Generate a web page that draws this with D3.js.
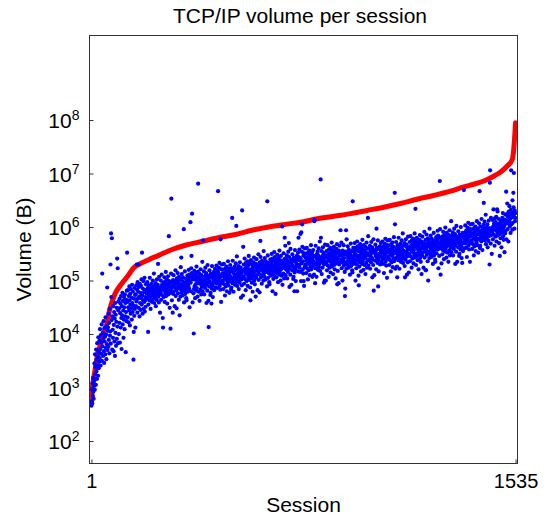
<!DOCTYPE html>
<html>
<head>
<meta charset="utf-8">
<script src="https://cdn.jsdelivr.net/npm/d3@7"></script>
<style>
  body { margin: 0; background: #fff; }
  text { font-family: "Liberation Sans", Arial, Helvetica, sans-serif; fill: #000; }
</style>
</head>
<body>
<div class="chart"></div>
<script>
// TCP/IP volume per session

const TITLE = 'TCP/IP volume per session'
const X_LABEL = 'Session'
const Y_LABEL = 'Volume (B)'

// x ticks (first and last session)
const X_TICKS = [1, 1535]
// y ticks, powers of ten
const Y_TICK_EXP = [2, 3, 4, 5, 6, 7, 8]

// red curve: sorted volume per session (session, log10 bytes)
const RED_SESSION = [1, 3, 6, 10, 15, 22, 34, 45, 58, 66, 76, 88, 100, 118, 136, 154, 172, 208, 244, 293,
  341, 400, 460, 522, 582, 642, 703, 769, 818, 878, 938, 998, 1058, 1119, 1179, 1239, 1300, 1348, 1384,
  1420, 1456, 1481, 1505, 1523, 1527, 1530, 1533, 1535]
const RED_LOG = [2.72, 2.92, 3.08, 3.2, 3.36, 3.59, 3.81, 4.02, 4.21, 4.43, 4.61, 4.77, 4.87, 4.99, 5.11, 5.24, 5.3, 5.39, 5.47, 5.58,
  5.66, 5.73, 5.8, 5.86, 5.94, 6.0, 6.05, 6.1, 6.155, 6.2, 6.25, 6.31, 6.37, 6.44, 6.52, 6.59, 6.67, 6.75, 6.8,
  6.86, 6.95, 7.03, 7.14, 7.26, 7.38, 7.55, 7.78, 7.95]

// blue dots: volume of each session in order 1..1535 (log10 bytes)
const BLUE_LOG = [
  // 1-10
  2.66, 2.74, 2.97, 2.70, 3.08, 2.84, 3.18, 2.92, 2.79, 3.03,
  // 11-30
  3.12, 3.45, 2.96, 3.62, 3.25, 3.38, 3.05, 3.71, 3.30, 3.52, 3.16, 3.83, 3.41, 3.58, 3.22, 3.94, 3.36, 3.66, 3.48, 3.88,
  // 31-60
  3.55, 4.09, 3.72, 3.41, 3.98, 3.63, 3.84, 4.18, 3.50, 5.13, 3.77, 4.02, 3.59, 3.91, 4.24, 3.68, 3.46, 4.11, 3.86, 3.95,
  3.62, 4.31, 3.74, 3.99, 3.53, 4.15, 3.81, 4.87, 3.70, 4.06,
  // 61-100
  4.12, 3.76, 4.38, 3.89, 4.21, 3.64, 4.47, 3.97, 4.05, 5.30, 3.82, 5.88, 4.69, 4.26, 5.79, 3.71, 4.33, 4.08, 3.93, 4.52,
  3.68, 4.17, 4.41, 3.86, 4.29, 3.59, 4.58, 4.02, 4.36, 3.78, 4.23, 4.49, 3.91, 5.41, 4.14, 5.23, 3.83, 4.44, 4.61, 4.00,
  // 101-130
  4.48, 4.21, 4.66, 3.84, 4.39, 4.57, 4.12, 4.71, 4.30, 3.72, 4.52, 4.35, 4.77, 4.18, 4.62, 4.44, 3.93, 4.27, 4.69, 4.50,
  4.09, 4.74, 4.33, 4.58, 3.66, 4.41, 4.64, 4.24, 4.81, 5.52,
  // 131-160
  4.60, 4.31, 4.82, 4.50, 4.22, 4.71, 4.44, 4.89, 4.63, 4.16, 4.75, 4.55, 4.38, 4.84, 4.48, 4.68, 4.27, 4.92, 4.58, 4.41,
  4.79, 4.53, 3.52, 4.04, 4.66, 4.34, 4.86, 4.47, 4.73, 4.12,
  // 161-200
  4.74, 4.52, 4.91, 4.61, 5.30, 4.83, 4.40, 4.97, 4.66, 4.79, 5.30, 4.49, 4.88, 4.70, 4.33, 4.94, 4.58, 4.77, 4.45, 4.90,
  4.67, 5.02, 4.55, 5.52, 4.72, 4.38, 4.85, 4.63, 4.99, 4.47, 4.78, 4.60, 5.05, 4.42, 4.82, 4.69, 4.51, 4.93, 4.64, 4.76,
  // 201-250
  4.82, 4.67, 4.97, 4.76, 4.86, 4.04, 4.55, 4.91, 4.72, 4.79, 4.63, 5.05, 4.84, 4.69, 4.47, 4.89, 4.80, 4.74, 4.94, 4.60,
  4.87, 4.77, 5.00, 4.65, 4.83, 4.71, 5.13, 4.58, 4.81, 4.90, 4.68, 4.76, 4.95, 4.52, 4.85, 4.78, 4.64, 5.02, 4.73, 4.88,
  4.92, 5.31, 4.70, 4.82, 4.59, 5.07, 4.75, 4.87, 4.40, 4.84,
  // 251-300
  4.78, 5.00, 4.64, 4.88, 5.11, 4.73, 4.93, 4.84, 4.30, 4.12, 4.90, 4.69, 4.96, 4.81, 5.06, 4.60, 4.85, 4.98, 4.76, 5.16,
  4.71, 4.91, 4.83, 5.02, 4.57, 4.94, 4.79, 5.08, 4.74, 4.87, 5.83, 4.99, 4.92, 4.49, 4.95, 4.82, 4.10, 4.77, 5.13, 6.53,
  4.86, 4.63, 4.97, 4.89, 4.40, 5.01, 4.75, 5.10, 4.80, 4.93,
  // 301-350
  4.96, 4.52, 4.99, 4.87, 5.19, 4.71, 4.94, 4.82, 4.48, 5.04, 5.00, 4.85, 5.14, 4.76, 4.90, 4.97, 4.64, 5.07, 4.88, 4.35,
  5.02, 4.93, 4.70, 5.25, 4.83, 5.43, 4.77, 5.12, 4.89, 4.99, 4.72, 5.06, 4.86, 4.92, 5.96, 4.59, 4.81, 4.96, 5.17, 4.75,
  4.91, 4.84, 5.03, 4.67, 4.63, 4.98, 4.88, 5.09, 4.79, 4.94,
  // 351-400
  5.03, 4.90, 5.20, 4.85, 5.11, 4.50, 4.99, 5.07, 6.09, 4.96, 4.80, 5.23, 5.46, 5.14, 6.25, 5.05, 4.59, 5.02, 5.09, 4.76,
  4.01, 4.84, 5.18, 4.89, 5.04, 4.67, 5.12, 4.93, 5.01, 4.81, 5.26, 4.86, 5.08, 4.95, 4.70, 5.16, 6.81, 5.06, 4.79, 5.00,
  5.13, 4.62, 4.94, 5.03, 4.83, 5.21, 4.98, 4.74, 5.10, 4.88,
  // 401-450
  4.93, 5.35, 4.80, 5.03, 5.75, 4.90, 4.98, 5.17, 4.74, 5.07, 5.00, 4.86, 5.24, 4.95, 5.10, 5.14, 4.58, 4.92, 5.04, 4.81,
  5.29, 4.97, 5.09, 4.62, 4.13, 5.04, 4.89, 5.19, 4.98, 5.08, 4.73, 4.77, 5.13, 4.94, 4.57, 4.85, 5.27, 5.06, 4.91, 4.69,
  5.11, 5.02, 4.96, 5.16, 4.82, 5.09, 4.99, 5.22, 4.87, 5.05,
  // 451-500
  5.14, 4.99, 5.28, 4.94, 5.07, 4.86, 5.19, 5.12, 6.67, 5.15, 5.02, 5.24, 4.97, 5.33, 4.90, 5.06, 4.83, 5.77, 5.09, 4.60,
  5.21, 4.95, 5.30, 5.00, 5.13, 4.98, 5.20, 4.84, 5.08, 5.31, 4.93, 5.13, 5.04, 4.72, 5.23, 5.10, 4.89, 5.16, 5.01, 5.26,
  4.80, 5.05, 5.18, 4.96, 5.36, 4.91, 5.11, 5.03, 5.22, 4.77,
  // 501-550
  5.14, 4.99, 5.29, 5.08, 5.18, 4.83, 4.87, 5.23, 5.04, 6.17, 4.95, 5.37, 5.16, 5.01, 4.79, 5.21, 5.12, 5.06, 5.26, 4.92,
  5.19, 5.09, 5.32, 4.97, 6.02, 5.03, 5.45, 4.90, 5.13, 5.22, 5.00, 5.08, 5.27, 4.84, 5.17, 5.10, 4.96, 5.34, 5.05, 5.20,
  5.24, 4.68, 5.02, 5.14, 4.91, 6.31, 5.07, 5.19, 4.72, 5.63,
  // 551-600
  5.08, 5.30, 4.94, 5.18, 5.41, 5.03, 5.23, 5.14, 4.82, 5.33, 5.20, 4.99, 5.26, 5.11, 5.36, 4.90, 5.15, 5.28, 5.06, 5.46,
  5.01, 5.21, 5.13, 5.32, 4.87, 4.63, 5.09, 5.38, 5.04, 5.17, 4.96, 5.29, 5.22, 4.79, 5.25, 5.12, 5.34, 5.07, 5.43, 5.00,
  5.16, 4.93, 5.27, 5.19, 4.70, 5.31, 5.05, 5.40, 5.10, 5.23,
  // 601-650
  5.26, 4.82, 5.29, 5.17, 5.49, 5.01, 5.24, 5.12, 4.78, 5.34, 5.30, 5.74, 5.44, 5.06, 5.20, 5.27, 4.94, 5.37, 5.18, 5.10,
  5.32, 5.23, 5.00, 5.55, 5.13, 5.25, 5.07, 5.42, 5.19, 5.29, 5.02, 5.36, 5.16, 5.22, 5.31, 4.89, 6.48, 5.26, 5.47, 5.05,
  5.21, 5.14, 5.33, 4.97, 4.93, 5.28, 5.18, 5.39, 5.09, 5.24,
  // 651-700
  5.33, 5.20, 5.50, 5.15, 5.41, 4.80, 5.29, 5.37, 5.03, 5.26, 5.10, 5.53, 5.17, 5.44, 5.22, 5.35, 4.75, 5.32, 5.39, 5.06,
  5.27, 5.14, 5.48, 5.19, 5.34, 4.97, 5.42, 5.23, 5.31, 5.11, 5.56, 5.16, 5.38, 5.25, 5.00, 5.46, 5.21, 5.36, 5.09, 5.30,
  6.01, 4.92, 5.24, 5.33, 5.13, 5.51, 5.28, 5.04, 5.40, 5.80,
  // 701-750
  5.23, 5.65, 5.10, 5.33, 5.42, 5.20, 5.28, 5.47, 5.04, 5.37, 5.30, 5.16, 5.54, 5.25, 5.70, 5.44, 4.88, 5.22, 5.34, 5.11,
  5.59, 5.27, 5.39, 4.92, 5.36, 5.34, 5.19, 5.49, 5.28, 5.38, 5.03, 5.07, 5.43, 5.24, 4.80, 5.15, 5.57, 5.36, 5.21, 4.99,
  5.41, 5.32, 5.26, 5.46, 4.80, 5.39, 5.29, 5.52, 5.17, 5.80,
  // 751-800
  5.44, 5.29, 5.58, 5.24, 5.37, 5.16, 5.87, 5.42, 4.99, 5.90, 5.32, 5.54, 6.05, 5.63, 5.20, 5.36, 5.13, 5.47, 4.99, 4.90,
  5.51, 5.25, 5.60, 5.30, 5.43, 5.28, 5.50, 5.14, 5.38, 5.61, 5.23, 5.43, 5.34, 5.02, 5.53, 5.40, 5.19, 5.46, 5.31, 5.56,
  5.10, 5.35, 5.48, 5.26, 5.66, 5.21, 5.41, 5.33, 5.52, 5.07,
  // 801-850
  5.42, 5.27, 5.57, 5.36, 5.46, 5.11, 6.11, 6.14, 5.32, 4.95, 5.23, 5.65, 5.44, 5.29, 5.07, 5.49, 5.40, 5.34, 5.54, 5.20,
  5.47, 5.37, 5.60, 5.25, 5.43, 5.31, 5.73, 5.18, 5.41, 6.89, 5.80, 5.36, 5.55, 5.12, 5.45, 5.38, 5.24, 5.62, 5.33, 5.48,
  5.52, 4.96, 5.30, 5.42, 5.00, 5.67, 5.35, 5.47, 5.00, 5.44,
  // 851-900
  5.33, 5.55, 5.19, 5.43, 5.66, 5.28, 5.48, 5.39, 5.07, 5.58, 5.45, 5.24, 5.51, 5.36, 5.61, 5.15, 5.40, 5.53, 5.31, 5.71,
  5.26, 5.46, 5.38, 5.57, 5.12, 5.49, 5.34, 5.63, 5.29, 5.42, 5.21, 5.54, 5.47, 5.04, 5.50, 5.37, 5.59, 5.32, 5.68, 4.93,
  5.41, 5.18, 5.52, 5.44, 4.95, 5.56, 5.30, 5.65, 5.35, 5.48,
  // 901-950
  5.48, 5.94, 5.51, 5.39, 5.71, 5.23, 5.46, 5.34, 5.00, 5.56, 5.52, 5.37, 5.66, 5.28, 5.42, 5.49, 5.16, 4.71, 4.85, 5.32,
  5.54, 5.94, 5.22, 5.77, 5.35, 5.47, 5.29, 5.64, 5.41, 5.51, 5.24, 5.58, 5.38, 5.44, 5.53, 5.11, 5.33, 5.48, 5.69, 5.27,
  5.43, 5.36, 5.55, 5.19, 5.15, 6.48, 5.40, 5.61, 5.31, 5.46,
  // 951-1000
  5.53, 5.40, 5.70, 5.35, 5.61, 5.00, 5.49, 5.57, 5.23, 5.46, 5.30, 5.73, 5.37, 5.64, 5.42, 5.55, 5.09, 4.91, 5.59, 5.26,
  5.47, 5.34, 5.68, 5.39, 5.54, 5.17, 5.62, 5.43, 5.51, 5.31, 5.76, 5.36, 5.58, 5.45, 5.20, 5.66, 5.41, 5.56, 5.29, 5.50,
  5.63, 5.12, 5.44, 5.53, 5.33, 5.71, 5.48, 5.24, 5.60, 5.38,
  // 1001-1050
  6.17, 5.83, 5.28, 5.51, 5.60, 5.38, 5.46, 5.65, 5.22, 5.55, 5.48, 5.34, 5.72, 5.43, 5.58, 5.62, 5.06, 5.40, 5.52, 5.29,
  5.77, 4.81, 5.57, 5.10, 5.54, 5.52, 5.37, 5.67, 5.46, 5.56, 5.21, 5.97, 5.61, 5.42, 5.49, 5.33, 5.75, 4.89, 5.39, 5.17,
  5.59, 5.50, 5.44, 5.64, 5.30, 5.57, 5.47, 5.70, 5.35, 5.53,
  // 1051-1100
  5.59, 5.44, 5.73, 5.39, 5.52, 5.31, 5.64, 5.57, 5.14, 5.60, 5.47, 5.69, 5.42, 5.78, 5.35, 5.51, 5.28, 5.62, 5.54, 5.05,
  5.66, 5.40, 5.75, 5.45, 5.58, 5.43, 5.65, 5.29, 5.53, 5.76, 5.38, 5.58, 5.49, 5.17, 5.68, 5.55, 5.34, 5.61, 5.46, 5.71,
  5.25, 5.50, 5.63, 5.41, 5.81, 5.36, 5.56, 6.64, 6.05, 5.22,
  // 1101-1150
  5.57, 5.42, 5.72, 5.51, 5.61, 5.26, 5.06, 5.66, 5.47, 5.54, 5.38, 5.80, 5.59, 5.44, 5.22, 5.64, 5.55, 5.49, 5.69, 5.35,
  5.62, 5.52, 5.75, 5.40, 5.58, 5.46, 5.88, 5.33, 5.56, 5.65, 5.43, 5.51, 5.70, 5.27, 5.06, 5.53, 5.39, 5.77, 5.48, 5.63,
  5.67, 5.11, 5.45, 5.57, 5.34, 5.82, 5.50, 5.62, 5.15, 5.59,
  // 1151-1200
  5.50, 5.72, 5.36, 5.60, 5.83, 5.45, 5.65, 5.56, 5.24, 5.75, 5.62, 5.41, 5.68, 5.53, 5.78, 5.32, 5.57, 5.70, 5.48, 5.88,
  5.43, 5.63, 6.34, 5.74, 5.29, 5.66, 5.51, 5.80, 5.46, 5.59, 5.38, 5.71, 5.64, 5.21, 5.67, 5.54, 5.76, 5.49, 5.85, 5.42,
  5.58, 5.35, 5.69, 5.61, 5.12, 5.73, 5.47, 5.82, 5.52, 5.65,
  // 1201-1250
  5.68, 5.24, 5.71, 5.59, 5.91, 5.43, 5.66, 5.54, 5.20, 5.76, 5.19, 5.57, 5.86, 5.48, 5.62, 5.69, 5.36, 5.79, 5.00, 5.52,
  5.74, 5.65, 5.42, 5.97, 5.55, 5.67, 5.49, 5.84, 5.61, 5.71, 5.44, 5.78, 5.58, 5.64, 5.73, 5.31, 5.53, 5.68, 5.89, 5.47,
  5.63, 5.56, 5.75, 5.39, 5.35, 5.70, 5.60, 5.81, 5.51, 5.66,
  // 1251-1300
  5.76, 5.63, 5.93, 5.58, 5.84, 5.23, 5.72, 5.80, 5.46, 5.69, 6.86, 5.96, 5.60, 5.11, 5.65, 5.78, 5.32, 5.75, 5.82, 5.49,
  5.70, 5.57, 5.91, 5.62, 5.77, 5.40, 5.85, 5.66, 5.74, 5.54, 5.99, 5.59, 5.81, 5.68, 5.43, 5.89, 5.64, 5.79, 5.52, 5.73,
  5.86, 5.35, 5.67, 5.76, 5.56, 5.94, 5.71, 5.47, 5.83, 5.61,
  // 1301-1350
  5.66, 6.11, 5.53, 5.76, 5.85, 5.63, 5.71, 5.90, 5.47, 5.80, 5.73, 5.59, 5.97, 5.68, 5.83, 5.87, 5.31, 5.65, 5.77, 5.54,
  6.02, 5.70, 5.82, 5.35, 5.79, 5.77, 5.62, 5.92, 5.71, 5.81, 5.46, 5.50, 5.86, 5.67, 5.74, 5.58, 6.00, 5.79, 5.64, 5.42,
  5.84, 5.33, 5.69, 5.89, 5.55, 5.82, 5.72, 6.69, 5.60, 5.78,
  // 1351-1400
  5.89, 5.74, 6.03, 5.69, 5.82, 5.61, 5.94, 5.87, 5.44, 5.90, 5.77, 5.99, 5.72, 6.08, 5.65, 5.81, 5.58, 5.92, 5.84, 5.35,
  5.96, 5.70, 6.05, 5.75, 5.88, 5.73, 5.95, 5.59, 5.83, 6.06, 5.68, 5.88, 5.79, 5.47, 5.98, 5.85, 5.64, 5.91, 5.76, 6.01,
  5.55, 5.80, 5.93, 5.71, 6.11, 5.66, 5.86, 5.78, 5.97, 5.52,
  // 1401-1450
  5.92, 5.77, 6.07, 5.86, 6.67, 5.61, 5.65, 6.01, 5.82, 5.89, 5.73, 6.15, 5.94, 5.79, 5.57, 5.99, 5.90, 5.84, 6.04, 6.45,
  5.97, 5.87, 6.10, 5.75, 5.93, 5.81, 6.23, 5.68, 5.91, 6.00, 5.78, 5.86, 6.05, 5.62, 5.95, 5.88, 5.74, 6.12, 5.83, 5.98,
  5.30, 6.83, 7.06, 5.92, 5.69, 6.17, 5.85, 5.97, 5.50, 5.94,
  // 1451-1500
  5.91, 6.13, 5.77, 6.01, 6.33, 5.86, 6.06, 5.97, 5.65, 6.16, 6.03, 5.82, 6.09, 5.94, 6.19, 5.73, 5.98, 6.33, 5.89, 6.29,
  5.84, 6.04, 5.96, 6.15, 5.70, 6.07, 5.92, 5.46, 5.87, 6.00, 5.79, 6.12, 6.05, 5.62, 6.08, 5.95, 6.17, 5.90, 6.26, 5.83,
  5.99, 5.76, 6.10, 6.02, 5.53, 6.14, 5.88, 6.23, 5.93, 6.06,
  // 1501-1535
  6.66, 5.77, 6.24, 6.12, 6.44, 5.96, 6.19, 6.07, 5.73, 6.29, 6.25, 6.10, 6.39, 6.01, 6.15, 6.22, 5.89, 6.32, 7.06, 6.05,
  6.27, 6.18, 5.95, 6.50, 6.08, 6.20, 6.64, 6.37, 7.01, 6.24, 5.97, 6.31, 6.11, 6.17, 6.26
]

var svgWidth = 547
var svgHeight = 516

var box = { left: 89.5, right: 517.5, top: 35.5, bottom: 463.5 }

var svg = d3.select('.chart')
    .append('svg')
    .attr('width', svgWidth)
    .attr('height', svgHeight)

var xScale = d3.scaleLinear()
    .domain([-6, 1542])
    .range([box.left, box.right])

var yScale = d3.scaleLog()
    .domain([Math.pow(10, 1.58), Math.pow(10, 9.58)])
    .range([box.bottom, box.top])

// Title
svg.append('text')
    .attr('x', 300)
    .attr('y', 23)
    .attr('text-anchor', 'middle')
    .attr('font-size', '21px')
    .text(TITLE)

// Red sorted curve
var red = RED_SESSION.map((s, i) => ({ s: s, v: Math.pow(10, RED_LOG[i]) }))
var line = d3.line()
    .x(d => xScale(d.s))
    .y(d => yScale(d.v))
    .curve(d3.curveMonotoneX)

svg.append('path')
    .datum(red)
    .attr('d', line)
    .attr('fill', 'none')
    .attr('stroke', '#ff0000')
    .attr('stroke-width', 5)
    .attr('stroke-linecap', 'round')
    .attr('stroke-linejoin', 'round')

// Blue dots
var blue = BLUE_LOG.map((v, i) => ({ s: i + 1, v: Math.pow(10, v) }))
svg.append('g')
    .selectAll('circle')
    .data(blue)
    .enter()
    .append('circle')
    .attr('cx', d => xScale(d.s))
    .attr('cy', d => yScale(d.v))
    .attr('r', 2.1)
    .attr('fill', '#0000ff')

// Axes
var yAxis = svg.append('g')
    .attr('transform', `translate(${box.left}, 0)`)
    .call(d3.axisLeft(yScale)
        .tickValues(Y_TICK_EXP.map(e => Math.pow(10, e)))
        .tickSizeInner(-4)
        .tickSizeOuter(0)
        .tickPadding(10))

yAxis.selectAll('.tick text')
    .attr('font-size', '21px')
    .attr('dy', '0.36em')
    .each(function(d) {
        var t = d3.select(this)
        t.text(null)
        t.append('tspan').text('10')
        t.append('tspan')
            .attr('dy', '-0.55em')
            .attr('font-size', '14px')
            .text(Math.round(Math.log10(d)))
    })

var xAxis = svg.append('g')
    .attr('transform', `translate(0, ${box.bottom})`)
    .call(d3.axisBottom(xScale)
        .tickValues(X_TICKS)
        .tickFormat(d3.format('d'))
        .tickSizeInner(-4)
        .tickSizeOuter(0)
        .tickPadding(10))

xAxis.selectAll('.tick text').attr('font-size', '20px')

svg.selectAll('.domain').remove()
svg.selectAll('.tick line').attr('stroke', '#333')
svg.selectAll('.tick text').attr('fill', '#000').attr('font-family', '"Liberation Sans", Arial, sans-serif')

// Box around the plot
svg.append('rect')
    .attr('x', box.left)
    .attr('y', box.top)
    .attr('width', box.right - box.left)
    .attr('height', box.bottom - box.top)
    .attr('fill', 'none')
    .attr('stroke', '#333')
    .attr('stroke-width', 1)

// Axis labels
svg.append('text')
    .attr('x', (box.left + box.right) / 2)
    .attr('y', 512)
    .attr('text-anchor', 'middle')
    .attr('font-size', '21px')
    .text(X_LABEL)

svg.append('text')
    .attr('transform', `translate(31, ${(box.top + box.bottom) / 2}) rotate(-90)`)
    .attr('text-anchor', 'middle')
    .attr('font-size', '21px')
    .text(Y_LABEL)
</script>
</body>
</html>
